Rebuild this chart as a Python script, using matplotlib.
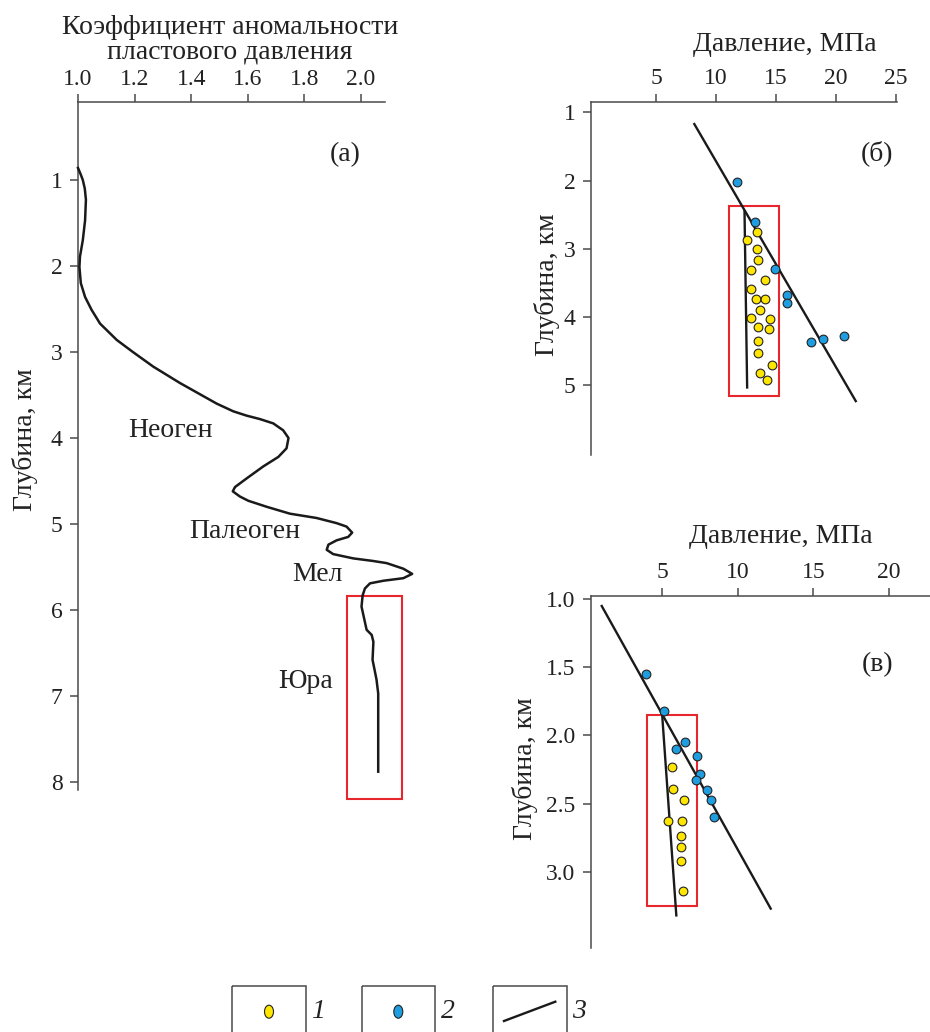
import matplotlib
matplotlib.use('Agg')
import matplotlib.pyplot as plt
from matplotlib.patches import Rectangle, Ellipse

plt.rcParams['font.family'] = ['Liberation Serif', 'DejaVu Serif']
plt.rcParams['font.size'] = 17

# ---------------- data: panel (а) ----------------
a_xticks = [1.0, 1.2, 1.4, 1.6, 1.8, 2.0]
a_yticks = [1, 2, 3, 4, 5, 6, 7, 8]
a_coef = [1.000, 1.009, 1.017, 1.024, 1.028, 1.025, 1.017, 1.007, 1.005, 1.010,
          1.025, 1.048, 1.078, 1.137, 1.194, 1.266, 1.360, 1.490, 1.549, 1.596,
          1.643, 1.690, 1.725, 1.744, 1.737, 1.708, 1.655, 1.596, 1.555, 1.547,
          1.572, 1.602, 1.667, 1.749, 1.843, 1.914, 1.949, 1.969, 1.955, 1.914,
          1.885, 1.879, 1.902, 1.973, 2.043, 2.091, 2.150, 2.181, 2.150, 2.079,
          2.032, 2.014, 2.006, 2.002, 2.020, 2.038, 2.044, 2.041, 2.046, 2.055,
          2.061, 2.061]
a_depth = [0.86, 0.93, 1.00, 1.10, 1.23, 1.47, 1.70, 1.89, 2.01, 2.20,
           2.36, 2.51, 2.67, 2.86, 3.00, 3.17, 3.36, 3.60, 3.69, 3.74,
           3.78, 3.83, 3.91, 4.00, 4.12, 4.22, 4.33, 4.47, 4.57, 4.62,
           4.68, 4.73, 4.80, 4.88, 4.93, 4.99, 5.03, 5.10, 5.15, 5.19,
           5.24, 5.30, 5.35, 5.40, 5.43, 5.455, 5.52, 5.58, 5.63, 5.66,
           5.69, 5.75, 5.83, 5.96, 6.23, 6.29, 6.37, 6.58, 6.66, 6.81,
           6.97, 7.88]
a_box = (1.95, 5.84, 2.145, 8.20)   # x0, d0, x1, d1
a_labels = ['Неоген', 'Палеоген', 'Мел', 'Юра']
a_label_x = [1.326, 1.588, 1.846, 1.805]
a_label_d = [3.91, 5.09, 5.59, 6.83]

# ---------------- data: panel (б) ----------------
b_xticks = [5, 10, 15, 20, 25]
b_yticks = [1, 2, 3, 4, 5]
b_blue_p = [11.73, 13.22, 14.94, 15.88, 15.88, 17.93, 18.90, 20.70]
b_blue_d = [2.02, 2.61, 3.30, 3.68, 3.79, 4.36, 4.32, 4.27]
b_yel_p = [13.42, 12.59, 13.39, 13.47, 12.95, 14.05, 12.87, 13.31, 14.09, 13.64,
           12.95, 14.50, 13.47, 14.44, 13.50, 13.50, 14.69, 13.70, 14.28]
b_yel_d = [2.75, 2.87, 3.00, 3.16, 3.31, 3.46, 3.58, 3.74, 3.74, 3.90,
           4.01, 4.03, 4.14, 4.18, 4.35, 4.52, 4.70, 4.82, 4.92]
b_line1_p = [8.19, 21.64]
b_line1_d = [1.17, 5.23]
b_line2_p = [12.37, 12.59]
b_line2_d = [2.45, 5.03]
b_box = (11.04, 2.37, 15.27, 5.16)

# ---------------- data: panel (в) ----------------
c_xticks = [5, 10, 15, 20]
c_yticks = [1.0, 1.5, 2.0, 2.5, 3.0]
c_blue_p = [3.89, 5.08, 6.51, 5.88, 7.27, 7.51, 7.24, 7.95, 8.22, 8.41]
c_blue_d = [1.55, 1.82, 2.05, 2.10, 2.15, 2.28, 2.33, 2.40, 2.47, 2.60]
c_yel_p = [5.65, 5.70, 6.45, 5.35, 6.31, 6.23, 6.21, 6.21, 6.36]
c_yel_d = [2.23, 2.39, 2.47, 2.63, 2.63, 2.74, 2.82, 2.92, 3.14]
c_line1_p = [0.98, 12.17]
c_line1_d = [1.05, 3.27]
c_line2_p = [4.99, 5.92]
c_line2_d = [1.86, 3.32]
c_box = (3.98, 1.85, 7.31, 3.25)

legend_labels = ['1', '2', '3']

# ---------------- styling ----------------
SPINE = '#4a4a4a'
LINE = '#1a1a1a'
TXT = '#222222'
RED = '#e8262d'
YEL = '#ffe600'
BLUE = '#1e9ee0'
LFS = 20   # label font size

fig = plt.figure(figsize=(9.3, 10.32), dpi=100)


def style(ax):
    for s in ['right', 'bottom']:
        ax.spines[s].set_visible(False)
    for s in ['top', 'left']:
        ax.spines[s].set_color(SPINE)
        ax.spines[s].set_linewidth(1.1)
    ax.xaxis.tick_top()
    ax.tick_params(axis='both', direction='out', length=6, width=1.1,
                   color=SPINE, labelsize=17, labelcolor=TXT)
    ax.tick_params(axis='x', pad=3)
    ax.tick_params(axis='y', pad=5)
    ax.set_facecolor('none')


def box(ax, b):
    ax.add_patch(Rectangle((b[0], b[1]), b[2] - b[0], b[3] - b[1], fill=False,
                           edgecolor=RED, lw=1.5, clip_on=False, zorder=2))


def points(ax, p, d, color):
    ax.plot(p, d, 'o', ms=6.3, mfc=color, mec=TXT, mew=0.8,
            clip_on=False, zorder=4)


# panel (а)
axa = fig.add_axes([78 / 930, 1 - 790 / 1032, 307 / 930, 688 / 1032])
style(axa)
axa.set_xlim(1.0, 2.085)
axa.set_ylim(8.093, 0.093)
axa.set_xticks(a_xticks)
axa.set_xticklabels([f'{v:.1f}' for v in a_xticks])
axa.set_yticks(a_yticks)
axa.plot(a_coef, a_depth, color=LINE, lw=1.8, clip_on=False,
         solid_joinstyle='round', zorder=3)
box(axa, a_box)
for t, x, d in zip(a_labels, a_label_x, a_label_d):
    axa.text(x, d, t, ha='center', va='center', fontsize=LFS, color=TXT)
axa.text(1.943, 0.71, '(а)', ha='center', va='center', fontsize=LFS, color=TXT)
axa.text(0.495, 1.109, 'Коэффициент аномальности', transform=axa.transAxes,
         ha='center', va='center', fontsize=LFS, color=TXT)
axa.text(0.495, 1.0727, 'пластового давления', transform=axa.transAxes,
         ha='center', va='center', fontsize=LFS, color=TXT)
axa.text(-0.173, 0.509, 'Глубина, км', transform=axa.transAxes, rotation=90,
         ha='center', va='center', fontsize=LFS, color=TXT)

# panel (б)
axb = fig.add_axes([591 / 930, 1 - 455 / 1032, 305.7 / 930, 353.3 / 1032])
style(axb)
axb.set_xlim(-0.42, 25.05)
axb.set_ylim(6.02, 0.842)
axb.set_xticks(b_xticks)
axb.set_yticks(b_yticks)
axb.plot(b_line1_p, b_line1_d, color=LINE, lw=1.7, clip_on=False, zorder=3)
axb.plot(b_line2_p, b_line2_d, color=LINE, lw=1.7, clip_on=False, zorder=3)
box(axb, b_box)
points(axb, b_blue_p, b_blue_d, BLUE)
points(axb, b_yel_p, b_yel_d, YEL)
axb.text(23.39, 1.60, '(б)', ha='center', va='center', fontsize=LFS, color=TXT)
axb.text(0.635, 1.163, 'Давление, МПа', transform=axb.transAxes,
         ha='center', va='center', fontsize=LFS, color=TXT)
axb.text(-0.145, 0.481, 'Глубина, км', transform=axb.transAxes, rotation=90,
         ha='center', va='center', fontsize=LFS, color=TXT)

# panel (в)
axc = fig.add_axes([590.7 / 930, 1 - 948 / 1032, 339.3 / 930, 352.5 / 1032])
style(axc)
axc.set_xlim(0.25, 22.72)
axc.set_ylim(3.559, 0.973)
axc.set_xticks(c_xticks)
axc.set_yticks(c_yticks)
axc.set_yticklabels([f'{v:.1f}' for v in c_yticks])
axc.plot(c_line1_p, c_line1_d, color=LINE, lw=1.7, clip_on=False, zorder=3)
axc.plot(c_line2_p, c_line2_d, color=LINE, lw=1.7, clip_on=False, zorder=3)
box(axc, c_box)
points(axc, c_blue_p, c_blue_d, BLUE)
points(axc, c_yel_p, c_yel_d, YEL)
axc.text(19.25, 1.48, '(в)', ha='center', va='center', fontsize=LFS, color=TXT)
axc.text(0.561, 1.166, 'Давление, МПа', transform=axc.transAxes,
         ha='center', va='center', fontsize=LFS, color=TXT)
axc.text(-0.194, 0.508, 'Глубина, км', transform=axc.transAxes, rotation=90,
         ha='center', va='center', fontsize=LFS, color=TXT)

# legend strip (pixel coordinates)
axl = fig.add_axes([0, 0, 1, 1], zorder=-1)
axl.set_xlim(0, 930)
axl.set_ylim(1032, 0)
axl.axis('off')
box_left = [232.3, 361.7, 493.3]
for x0 in box_left:
    axl.add_patch(Rectangle((x0, 985.7), 73.7, 60, fill=False,
                            edgecolor=SPINE, lw=1.1, clip_on=False))
axl.add_patch(Ellipse((269, 1011.7), 9, 13, facecolor=YEL,
                      edgecolor=TXT, lw=0.8))
axl.add_patch(Ellipse((398.3, 1011.7), 9, 13, facecolor=BLUE,
                      edgecolor=TXT, lw=0.8))
axl.plot([504, 555.3], [1021, 1001.7], color=LINE, lw=1.7)
for x0, t in zip(box_left, legend_labels):
    axl.text(x0 + 79, 1011.5, t, ha='left', va='center', fontsize=20,
             style='italic', color=TXT)

fig.savefig('out.png', dpi=100)
